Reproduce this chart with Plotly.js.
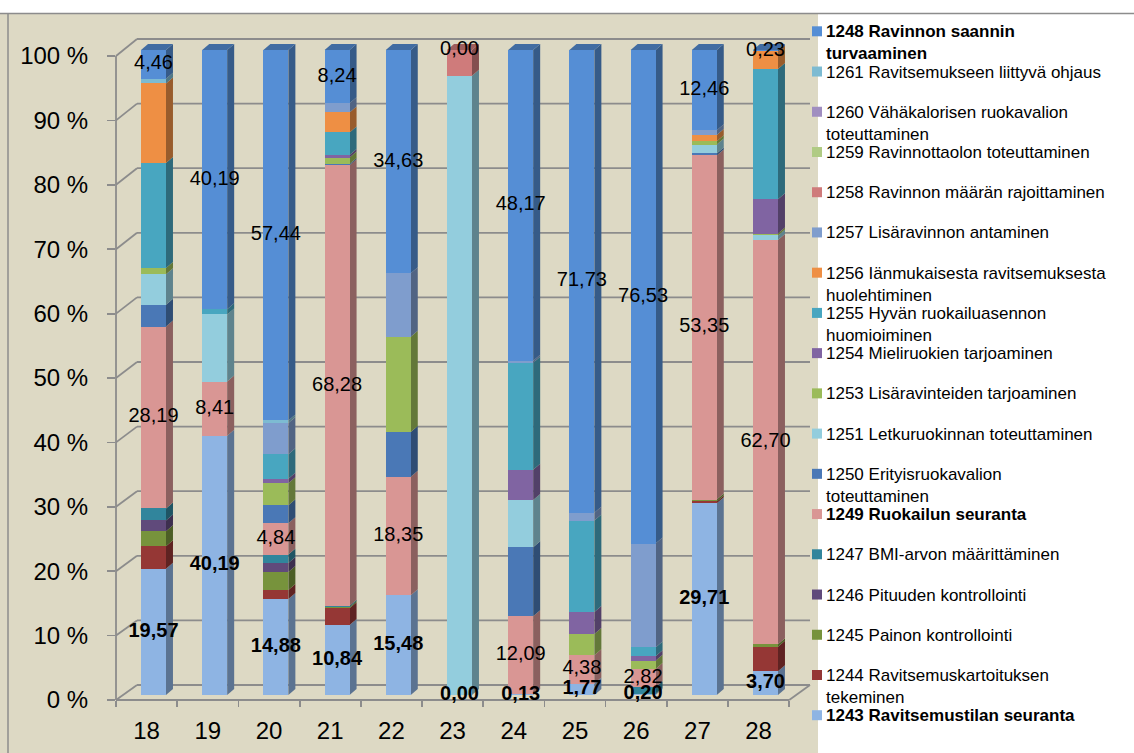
<!DOCTYPE html>
<html>
<head>
<meta charset="utf-8">
<script src="https://cdn.plot.ly/plotly-3.0.1.min.js"></script>
<style>
  html, body { margin: 0; padding: 0; background: #ffffff; }
  #chart { width: 1134px; height: 753px; }
</style>
</head>
<body>
<div id="chart"></div>
<script>
// ---- data -------------------------------------------------------------
const categories = ['18', '19', '20', '21', '22', '23', '24', '25', '26', '27', '28'];
const yTickValues = [0, 10, 20, 30, 40, 50, 60, 70, 80, 90, 100];
const yTickLabels = ['0 %', '10 %', '20 %', '30 %', '40 %', '50 %', '60 %', '70 %', '80 %', '90 %', '100 %'];

// share (%) of each nursing activity per category, bottom of the stack first
const s1243 = [19.57, 40.19, 14.88, 10.84, 15.48, 0.00, 0.13, 1.77, 0.20, 29.71, 3.70];
const s1244 = [3.50, 0, 1.40, 2.60, 0, 0, 0, 0, 0, 0.30, 3.80];
const s1245 = [2.30, 0, 2.80, 0.20, 0, 0, 0, 0, 0, 0.30, 0.35];
const s1246 = [1.70, 0, 1.40, 0, 0, 0, 0, 0, 0, 0, 0];
const s1247 = [1.86, 0, 1.30, 0.20, 0, 0, 0, 0, 1.00, 0, 0];
const s1249 = [28.19, 8.41, 4.84, 68.28, 18.35, 0.00, 12.09, 4.38, 2.82, 53.35, 62.70];
const s1250 = [3.40, 0, 2.80, 0.20, 6.95, 0, 10.70, 0, 0, 0.30, 0];
const s1251 = [4.70, 10.40, 0, 0, 0, 96.00, 7.30, 0, 0, 1.38, 0.70];
const s1253 = [1.00, 0, 3.40, 1.00, 14.75, 0, 0, 3.30, 1.30, 0.50, 0.30];
const s1254 = [0, 0, 0.70, 0.40, 0, 0, 4.70, 3.40, 0.70, 0, 5.30];
const s1255 = [16.25, 0.81, 3.80, 3.50, 0, 0, 16.60, 14.20, 1.35, 0, 20.22];
const s1256 = [12.35, 0, 0, 3.10, 0, 0, 0, 0, 0, 1.00, 2.70];
const s1257 = [0, 0, 4.84, 1.44, 9.84, 0, 0.31, 1.22, 16.10, 0.70, 0];
const s1258 = [0, 0, 0, 0, 0, 4.00, 0, 0, 0, 0, 0];
const s1259 = [0, 0, 0, 0, 0, 0, 0, 0, 0, 0, 0];
const s1260 = [0, 0, 0, 0, 0, 0, 0, 0, 0, 0, 0];
const s1261 = [0.72, 0, 0.40, 0, 0, 0, 0, 0, 0, 0, 0];
const s1248 = [4.46, 40.19, 57.44, 8.24, 34.63, 0.00, 48.17, 71.73, 76.53, 12.46, 0.23];

const seriesCodes = ['1243', '1244', '1245', '1246', '1247', '1249', '1250', '1251', '1253',
                     '1254', '1255', '1256', '1257', '1258', '1259', '1260', '1261', '1248'];
const seriesValues = [s1243, s1244, s1245, s1246, s1247, s1249, s1250, s1251, s1253,
                      s1254, s1255, s1256, s1257, s1258, s1259, s1260, s1261, s1248];
const seriesNames = [
  '1243 Ravitsemustilan seuranta',
  '1244 Ravitsemuskartoituksen<br>tekeminen',
  '1245 Painon kontrollointi',
  '1246 Pituuden kontrollointi',
  '1247 BMI-arvon määrittäminen',
  '1249 Ruokailun seuranta',
  '1250 Erityisruokavalion<br>toteuttaminen',
  '1251 Letkuruokinnan toteuttaminen',
  '1253 Lisäravinteiden tarjoaminen',
  '1254 Mieliruokien tarjoaminen',
  '1255 Hyvän ruokailuasennon<br>huomioiminen',
  '1256 Iänmukaisesta ravitsemuksesta<br>huolehtiminen',
  '1257 Lisäravinnon antaminen',
  '1258 Ravinnon määrän rajoittaminen',
  '1259 Ravinnottaolon toteuttaminen',
  '1260 Vähäkalorisen ruokavalion<br>toteuttaminen',
  '1261 Ravitsemukseen liittyvä ohjaus',
  '1248 Ravinnon saannin<br>turvaaminen'
];
const seriesColors = ['#8EB4E3', '#953735', '#77933C', '#604A7B', '#31859C', '#D99694', '#4A78B6',
                      '#93CDDD', '#9BBB59', '#8064A2', '#48A6C0', '#EE8F44', '#7F9DCD', '#CF7B7B',
                      '#B0CB84', '#A08EC0', '#7DBBD2', '#558ED5'];
const boldSeries = ['1243', '1249', '1248'];
// series whose values are printed on the bars
const labelledSeries = [
  { code: '1243', bold: true,  showZero: true },
  { code: '1249', bold: false, showZero: false },
  { code: '1248', bold: false, showZero: true }
];

// ---- geometry of the pseudo-3D frame (pixels) ---------------------------
const FIG = { w: 1134, h: 753 };
const PLOT = { l: 116, r: 810, t: 39, b: 700 };
const PX_PER_CAT = 61.2;
const WALL = { x: 137, bottom: 685, top: 39 };     // back wall
const FRONT_TOP = 56;                              // 100 % on the front edge
const GRID = '#8C8C8C';
const FONT = 'Arial, "Liberation Sans", sans-serif';

const plotH = PLOT.b - PLOT.t;
const plotW = PLOT.r - PLOT.l;
const px2x = px => (px - PLOT.l) / plotW;
const px2y = py => (PLOT.b - py) / plotH;

const idx = categories.map((c, i) => i);
const xRange = [-0.5, -0.5 + plotW / PX_PER_CAT];
const barOffset = -0.0915;
const barWidth = 0.408;
// bar scale: 0 % at 695 px, 100 % at 50 px
const barSpan = 100 * plotH / 645;
const barRange = [-5 * barSpan / plotH, -5 * barSpan / plotH + barSpan];
// front-edge scale for the percentage ticks
const tickRange = [0, 100 * plotH / (PLOT.b - FRONT_TOP)];
const depthX = 7 / PX_PER_CAT;
const depthY = 6 * barSpan / plotH;

const frontPx = v => PLOT.b - (PLOT.b - FRONT_TOP) * v / 100;
const backPx = v => WALL.bottom - (WALL.bottom - WALL.top) * v / 100;

function shade(hex, f) {
  const n = parseInt(hex.slice(1), 16);
  const c = [(n >> 16) & 255, (n >> 8) & 255, n & 255].map(v => Math.round(v * f));
  return 'rgb(' + c.join(',') + ')';
}

// ---- cumulative stack positions ----------------------------------------
const bases = seriesValues.map(() => []);
idx.forEach(i => {
  let acc = 0;
  seriesValues.forEach((vals, s) => { bases[s][i] = acc; acc += vals[i]; });
});

// ---- traces -------------------------------------------------------------
// empty carrier so the percentage axis gets its own subplot
const traces = [{
  type: 'scatter', mode: 'markers', x: [null], y: [null], yaxis: 'y',
  showlegend: false, hoverinfo: 'skip'
}];

seriesValues.forEach((vals, s) => {
  const label = seriesNames[s].replace('<br>', ' ');
  traces.push({
    type: 'bar',
    name: label,
    x: idx,
    y: vals,
    offset: barOffset,
    width: barWidth,
    yaxis: 'y2',
    marker: { color: seriesColors[s], line: { width: 0 } },
    showlegend: false,
    hovertemplate: '%{y:.2f} %<extra>' + label + '</extra>'
  });
});

labelledSeries.forEach(ls => {
  const s = seriesCodes.indexOf(ls.code);
  const vals = seriesValues[s];
  const pts = idx.filter(i => ls.showZero || vals[i] > 0);
  traces.push({
    type: 'scatter',
    mode: 'text',
    x: pts.map(i => i + barOffset + barWidth / 2),
    y: pts.map(i => bases[s][i] + vals[i] / 2),
    customdata: pts.map(i => vals[i]),
    texttemplate: '%{customdata:.2f}',
    textposition: 'middle center',
    textfont: { family: FONT, size: 20, color: '#000000', weight: ls.bold ? 'bold' : 'normal' },
    yaxis: 'y2',
    cliponaxis: false,
    showlegend: false,
    hoverinfo: 'skip'
  });
});

// ---- shapes: background, walls, floor -----------------------------------
const shapes = [];
const paperLine = (x0, y0, x1, y1, w) => ({
  type: 'line', xref: 'paper', yref: 'paper', layer: 'below',
  x0: px2x(x0), y0: px2y(y0), x1: px2x(x1), y1: px2y(y1),
  line: { color: GRID, width: w || 1.8 }
});

shapes.push({
  type: 'rect', xref: 'paper', yref: 'paper', layer: 'below',
  x0: px2x(0), x1: px2x(818), y0: px2y(FIG.h), y1: px2y(14),
  fillcolor: '#DDD9C4', line: { width: 0 }
});
shapes.push(paperLine(0, 13.5, FIG.w, 13.5, 1.5));
shapes.push(paperLine(8, 14, 8, FIG.h, 1.5));

yTickValues.forEach(v => {
  shapes.push(paperLine(PLOT.l, frontPx(v), WALL.x, backPx(v)));
  shapes.push(paperLine(WALL.x, backPx(v), PLOT.r, backPx(v)));
});
shapes.push(paperLine(PLOT.l, frontPx(100), PLOT.l, PLOT.b));
const frontEnd = PLOT.l + categories.length * PX_PER_CAT;
shapes.push(paperLine(PLOT.l, PLOT.b, frontEnd, PLOT.b));
shapes.push(paperLine(frontEnd, PLOT.b, PLOT.r, WALL.bottom));

// ---- shapes: side and top faces of the bars ------------------------------
idx.forEach(i => {
  const xl = i + barOffset;
  const xr = xl + barWidth;
  let topSeries = -1;
  seriesValues.forEach((vals, s) => {
    const v = vals[i];
    if (v <= 0) return;
    topSeries = s;
    const b = bases[s][i];
    const t = b + v;
    shapes.push({
      type: 'path', xref: 'x', yref: 'y2', layer: 'below',
      path: `M${xr},${b} L${xr + depthX},${b + depthY} L${xr + depthX},${t + depthY} L${xr},${t} Z`,
      fillcolor: shade(seriesColors[s], 0.64), line: { width: 0 }
    });
  });
  if (topSeries >= 0) {
    const T = bases[topSeries][i] + seriesValues[topSeries][i];
    shapes.push({
      type: 'path', xref: 'x', yref: 'y2', layer: 'below',
      path: `M${xl},${T} L${xl + depthX},${T + depthY} L${xr + depthX},${T + depthY} L${xr},${T} Z`,
      fillcolor: shade(seriesColors[topSeries], 0.76), line: { width: 0 }
    });
  }
});

// ---- legend (top entry = top of the stack) ------------------------------
const annotations = [];
const legendOrder = seriesCodes.map((c, s) => s).reverse();
legendOrder.forEach((s, k) => {
  const cy = 31.3 + 40.23 * k;
  const bold = boldSeries.includes(seriesCodes[s]);
  shapes.push({
    type: 'rect', xref: 'paper', yref: 'paper', layer: 'above',
    xsizemode: 'pixel', ysizemode: 'pixel',
    xanchor: px2x(817), yanchor: px2y(cy),
    x0: -5, x1: 5, y0: -5, y1: 5,
    fillcolor: seriesColors[s], line: { width: 0 }
  });
  annotations.push({
    xref: 'paper', yref: 'paper',
    x: px2x(824), y: px2y(cy - 11),
    xanchor: 'left', yanchor: 'top', align: 'left',
    showarrow: false,
    text: bold ? '<b>' + seriesNames[s].replace('<br>', '</b><br><b>') + '</b>' : seriesNames[s],
    font: { family: FONT, size: 17, color: '#000000' }
  });
});

// ---- layout ---------------------------------------------------------------
const layout = {
  width: FIG.w,
  height: FIG.h,
  margin: { l: PLOT.l, r: FIG.w - PLOT.r, t: PLOT.t, b: FIG.h - PLOT.b, pad: 0 },
  paper_bgcolor: '#ffffff',
  plot_bgcolor: 'rgba(0,0,0,0)',
  barmode: 'stack',
  separators: ',.',
  showlegend: false,
  font: { family: FONT, color: '#000000' },
  xaxis: {
    range: xRange,
    tickmode: 'array',
    tickvals: idx,
    ticktext: categories,
    ticks: '',
    tickfont: { family: FONT, size: 24, color: '#000000' },
    ticklabelstandoff: 14,
    minor: {
      tickmode: 'array',
      tickvals: idx.map(i => i - 0.5).concat([categories.length - 0.5]),
      ticks: 'outside', ticklen: 6, tickwidth: 1.8, tickcolor: GRID, showgrid: false
    },
    showgrid: false, zeroline: false, showline: false, fixedrange: true
  },
  yaxis: {
    range: tickRange,
    tickmode: 'array',
    tickvals: yTickValues,
    ticktext: yTickLabels,
    ticks: 'outside', ticklen: 8, tickwidth: 1.8, tickcolor: GRID,
    tickfont: { family: FONT, size: 24, color: '#000000' },
    ticklabelstandoff: 14,
    showgrid: false, zeroline: false, showline: false, fixedrange: true
  },
  yaxis2: {
    overlaying: 'y',
    side: 'left',
    range: barRange,
    showticklabels: false, ticks: '',
    showgrid: false, zeroline: false, showline: false, fixedrange: true
  },
  shapes: shapes,
  annotations: annotations
};

Plotly.newPlot('chart', traces, layout, { displayModeBar: false, staticPlot: true });
</script>
</body>
</html>
